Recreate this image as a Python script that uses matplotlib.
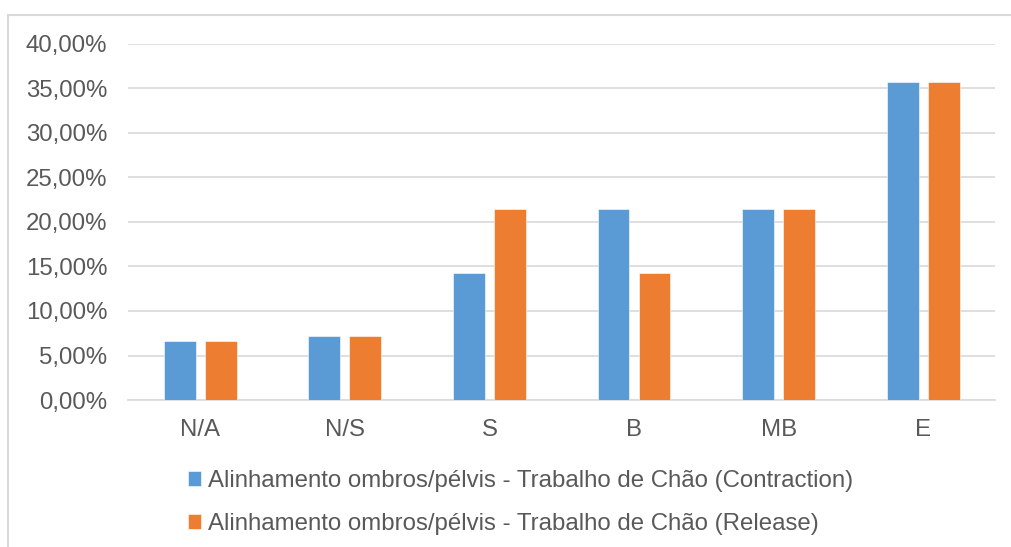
import numpy as np
import matplotlib.pyplot as plt
from matplotlib.patches import Rectangle
from matplotlib.ticker import FuncFormatter

# data
categories = ['N/A', 'N/S', 'S', 'B', 'MB', 'E']
contraction = [6.67, 7.14, 14.29, 21.43, 21.43, 35.71]
release = [6.67, 7.14, 21.43, 14.29, 21.43, 35.71]
series_names = ['Alinhamento ombros/pélvis - Trabalho de Chão (Contraction)',
                'Alinhamento ombros/pélvis - Trabalho de Chão (Release)']

blue = '#5B9BD5'
orange = '#ED7D31'
txt = '#595959'
grid = '#D9D9D9'
fs = 17.3

plt.rcParams['font.family'] = ['Liberation Sans', 'DejaVu Sans']

fig = plt.figure(figsize=(10.11, 5.47), dpi=100)
ax = fig.add_axes([0.1266, 0.2687, 0.858, 0.651])

x = np.arange(len(categories))
w = 0.22
off = 0.142
b1 = ax.bar(x - off, np.array(contraction) / 100, w, color=blue,
            edgecolor='white', linewidth=0.4, zorder=3)
b2 = ax.bar(x + off, np.array(release) / 100, w, color=orange,
            edgecolor='white', linewidth=0.4, zorder=3)

ax.set_xlim(-0.5, len(categories) - 0.5)
ax.set_ylim(0, 0.40)
ax.set_yticks(np.arange(0, 0.401, 0.05))
ax.yaxis.set_major_formatter(FuncFormatter(lambda v, p: f'{v*100:.2f}%'.replace('.', ',')))
ax.set_xticks(x)
ax.set_xticklabels(categories)
ax.grid(axis='y', color=grid, linewidth=1.2, zorder=0)
for s in ['top', 'right', 'left']:
    ax.spines[s].set_visible(False)
ax.spines['bottom'].set_color(grid)
ax.spines['bottom'].set_linewidth(1.2)
ax.tick_params(axis='both', length=0, labelsize=fs, labelcolor=txt)
ax.tick_params(axis='y', pad=15)
ax.tick_params(axis='x', pad=14)

leg = fig.legend([b1, b2], series_names, loc='upper left',
                 bbox_to_anchor=(0.186, 0.1405), frameon=False, fontsize=fs,
                 handlelength=0.55, handleheight=0.55, handletextpad=0.3,
                 labelspacing=0.87, borderpad=0, borderaxespad=0)
for t in leg.get_texts():
    t.set_color(txt)

# chart border (runs off the right and bottom of the picture)
fig.add_artist(Rectangle((8 / 1011, -0.1), 2.0, 1.1 - 15 / 547, transform=fig.transFigure,
                         fill=False, edgecolor=grid, linewidth=1.5))

fig.savefig('out.png', dpi=100)
